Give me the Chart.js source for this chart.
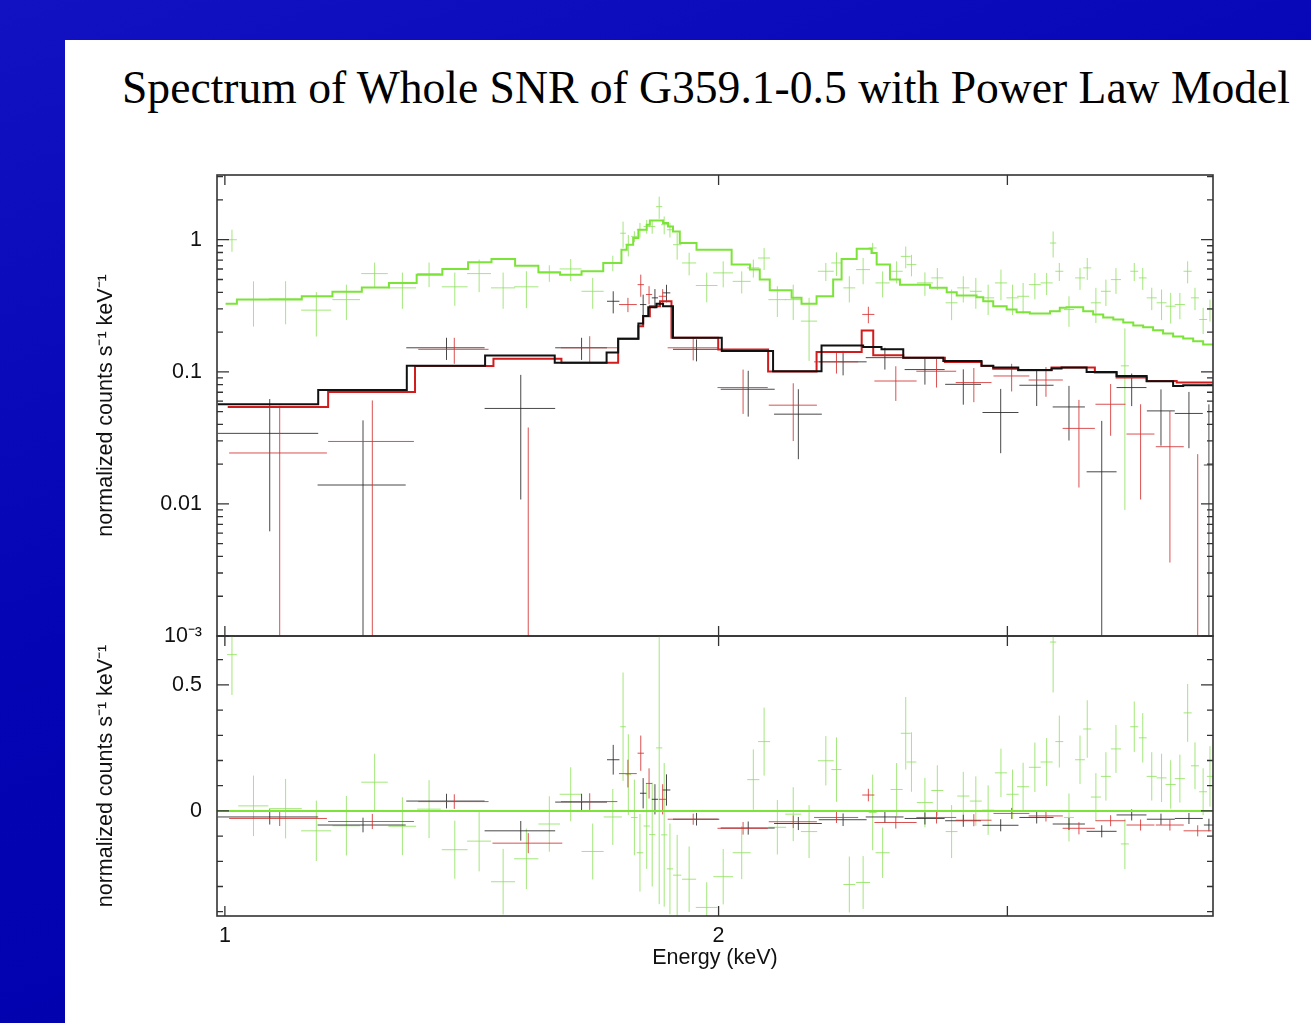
<!DOCTYPE html>
<html>
<head>
<meta charset="utf-8">
<title>G359.1-0.5 spectrum</title>
<script src="https://cdn.jsdelivr.net/npm/chart.js@4.4.0/dist/chart.umd.min.js"></script>
<style>
    body {
        margin: 0;
        width: 1311px;
        height: 1023px;
        overflow: hidden;
        position: relative;
        background: linear-gradient(160deg, #1212c2 0%, #0404b4 45%, #0000aa 100%);
    }
    #sheet {
        position: absolute;
        left: 65px;
        top: 40px;
        width: 1246px;
        height: 983px;
        background: #ffffff;
    }
    #titulo {
        position: absolute;
        left: 122px;
        top: 65px;
        white-space: nowrap;
        font-family: 'Liberation Serif', 'Times New Roman', serif;
        font-size: 45.6px;
        line-height: 1;
        color: #000;
    }
    canvas { position: absolute; left: 65px; }
    #grafTopo { top: 145px; }
    #grafResid { top: 606px; }
</style>
</head>
<body>
<div id="sheet"></div>
<div id="titulo">Spectrum of Whole SNR of G359.1-0.5 with Power Law Model</div>
<canvas id="grafTopo" width="1246" height="521"></canvas>
<canvas id="grafResid" width="1246" height="417"></canvas>

<script>
// eixos
const xMin = 0.989, xMax = 4.004;
const xTickVals = [1, 2];
const xTickLabels = ['1', '2'];
const xMarkVals = [1, 2, 3];
const yTickVals = [0.001, 0.01, 0.1, 1];
const yTickLabels = ['10\u207B\u00B3', '0.01', '0.1', '1'];
const residTickVals = [0, 0.5];
const residTickLabels = ['0', '0.5'];

// dados verdes (energia keV, meia largura, taxa, erro, residuo, erro)
const greenE = [1.010, 1.041, 1.089, 1.137, 1.186, 1.234, 1.283, 1.332, 1.381, 1.429,
    1.478, 1.527, 1.577, 1.625, 1.676, 1.724, 1.749, 1.762, 1.777, 1.791,
    1.808, 1.822, 1.840, 1.853, 1.868, 1.887, 1.919, 1.967, 2.013, 2.066,
    2.100, 2.132, 2.172, 2.221, 2.271, 2.325, 2.360, 2.403, 2.450, 2.483,
    2.518, 2.568, 2.601, 2.622, 2.672, 2.719, 2.774, 2.820, 2.870, 2.920,
    2.973, 3.022, 3.067, 3.118, 3.170, 3.199, 3.227, 3.271, 3.322, 3.356,
    3.397, 3.445, 3.494, 3.538, 3.585, 3.628, 3.674, 3.725, 3.773, 3.822,
    3.864, 3.904, 3.949, 3.987];
const greenDE = [0.007, 0.022, 0.025, 0.024, 0.023, 0.023, 0.025, 0.022, 0.025, 0.024,
    0.025, 0.026, 0.024, 0.025, 0.026, 0.022, 0.007, 0.007, 0.008, 0.008,
    0.008, 0.008, 0.008, 0.008, 0.008, 0.011, 0.019, 0.030, 0.028, 0.026,
    0.018, 0.018, 0.027, 0.025, 0.026, 0.026, 0.017, 0.020, 0.024, 0.014,
    0.025, 0.022, 0.018, 0.018, 0.030, 0.023, 0.023, 0.024, 0.024, 0.025,
    0.025, 0.026, 0.026, 0.026, 0.027, 0.014, 0.018, 0.023, 0.023, 0.019,
    0.024, 0.024, 0.025, 0.020, 0.020, 0.020, 0.026, 0.026, 0.027, 0.027,
    0.022, 0.022, 0.022, 0.017];
const greenRate = [1.00, 0.352, 0.357, 0.293, 0.352, 0.554, 0.432, 0.554, 0.440, 0.554,
    0.432, 0.440, 0.560, 0.601, 0.407, 0.667, 1.12, 0.917, 1.06, 1.19,
    1.26, 1.26, 1.78, 1.30, 1.19, 0.917, 0.667, 0.450, 0.561, 0.484,
    0.612, 0.727, 0.352, 0.352, 0.242, 0.577, 0.667, 0.432, 0.594, 0.866,
    0.471, 0.577, 0.748, 0.648, 0.471, 0.514, 0.333, 0.432, 0.407, 0.363,
    0.471, 0.363, 0.373, 0.457, 0.471, 0.944, 0.577, 0.296, 0.514, 0.612,
    0.333, 0.407, 0.499, 0.111, 0.577, 0.514, 0.363, 0.333, 0.314, 0.323,
    0.577, 0.363, 0.249, 0.296];
const greenRateErr = [0.19, 0.132, 0.128, 0.108, 0.105, 0.117, 0.132, 0.117, 0.124, 0.153,
    0.132, 0.137, 0.08, 0.114, 0.107, 0.09, 0.25, 0.17, 0.10, 0.15,
    0.15, 0.15, 0.34, 0.20, 0.15, 0.21, 0.13, 0.114, 0.125, 0.092,
    0.095, 0.138, 0.092, 0.105, 0.121, 0.09, 0.135, 0.097, 0.134, 0.08,
    0.105, 0.11, 0.14, 0.12, 0.095, 0.097, 0.087, 0.097, 0.107, 0.094,
    0.123, 0.094, 0.098, 0.103, 0.09, 0.21, 0.09, 0.077, 0.097, 0.116,
    0.099, 0.092, 0.11, 0.102, 0.09, 0.097, 0.07, 0.087, 0.082, 0.073,
    0.11, 0.07, 0.056, 0.056];
const greenResid = [0.62, 0.020, 0.009, -0.079, -0.059, 0.114, -0.061, 0.007, -0.154, -0.120,
    -0.281, -0.190, -0.052, 0.066, -0.161, -0.024, 0.334, 0.144, -0.026, -0.166,
    -0.060, -0.094, 0.25, -0.095, -0.23, -0.255, -0.271, -0.383, -0.261, -0.166,
    0.124, 0.275, -0.065, -0.013, -0.082, 0.199, 0.164, -0.292, -0.284, -0.006,
    -0.166, 0.085, 0.308, 0.194, 0.033, 0.081, -0.082, 0.059, 0.039, 0.003,
    0.151, 0.066, 0.096, 0.173, 0.194, 0.670, 0.275, -0.026, 0.203, 0.325,
    0.055, 0.137, 0.246, -0.131, 0.334, 0.290, 0.137, 0.131, 0.105, 0.128,
    0.389, 0.179, 0.076, 0.137];
const greenResidErr = [0.16, 0.12, 0.118, 0.12, 0.118, 0.113, 0.115, 0.115, 0.115, 0.12,
    0.13, 0.12, 0.11, 0.107, 0.111, 0.111, 0.215, 0.16, 0.15, 0.154,
    0.17, 0.206, 0.62, 0.285, 0.18, 0.16, 0.13, 0.10, 0.11, 0.105,
    0.12, 0.135, 0.108, 0.107, 0.105, 0.098, 0.128, 0.111, 0.105, 0.15,
    0.10, 0.105, 0.144, 0.118, 0.098, 0.10, 0.105, 0.096, 0.098, 0.098,
    0.096, 0.098, 0.095, 0.098, 0.095, 0.20, 0.103, 0.095, 0.096, 0.114,
    0.095, 0.096, 0.095, 0.10, 0.10, 0.098, 0.096, 0.096, 0.096, 0.095,
    0.115, 0.093, 0.093, 0.12];

// dados pretos
const blackE = [1.065, 1.214, 1.365, 1.515, 1.650, 1.725, 1.799, 1.829, 1.859, 1.939, 2.085, 2.237,
    2.382, 2.526, 2.672, 2.820, 2.972, 3.126, 3.271, 3.425, 3.572, 3.722, 3.871, 3.981];
const blackDE = [0.075, 0.075, 0.075, 0.075, 0.060, 0.015, 0.008, 0.008, 0.010, 0.063, 0.079, 0.075,
    0.080, 0.067, 0.075, 0.071, 0.075, 0.075, 0.074, 0.072, 0.075, 0.073, 0.076, 0.028];
const blackRate = [0.0342, 0.0139, 0.152, 0.0528, 0.152, 0.342, 0.323, 0.363, 0.396, 0.148, 0.0738, 0.0478,
    0.119, 0.128, 0.104, 0.0804, 0.0492, 0.0791, 0.0542, 0.0175, 0.076, 0.0506, 0.0484, 0.0197];
const blackRateErr = [0.028, 0.029, 0.029, 0.042, 0.029, 0.065, 0.061, 0.06, 0.06, 0.028, 0.028, 0.026,
    0.025, 0.024, 0.024, 0.024, 0.025, 0.024, 0.024, 0.025, 0.021, 0.023, 0.022, 0.037];
const blackResid = [-0.024, -0.056, 0.039, -0.079, 0.035, 0.203, 0.070, 0.046, 0.083, -0.033, -0.068, -0.050,
    -0.035, -0.024, -0.030, -0.039, -0.057, -0.026, -0.052, -0.081, -0.016, -0.033, -0.030, -0.056];
const blackResidErr = [0.03, 0.029, 0.029, 0.039, 0.033, 0.059, 0.06, 0.06, 0.062, 0.025, 0.026, 0.026,
    0.025, 0.024, 0.024, 0.024, 0.024, 0.024, 0.024, 0.024, 0.022, 0.022, 0.022, 0.025];

// dados vermelhos
const redE = [1.080, 1.230, 1.380, 1.531, 1.669, 1.761, 1.793, 1.814, 1.849, 1.930, 2.070, 2.221,
    2.360, 2.468, 2.565, 2.716, 2.862, 3.018, 3.167, 3.317, 3.468, 3.617, 3.769, 3.919];
const redDE = [0.074, 0.074, 0.068, 0.075, 0.066, 0.022, 0.008, 0.008, 0.010, 0.068, 0.073, 0.075,
    0.073, 0.021, 0.076, 0.076, 0.072, 0.076, 0.076, 0.075, 0.073, 0.071, 0.074, 0.077];
const redRate = [0.0243, 0.0297, 0.148, 0.0005, 0.152, 0.323, 0.457, 0.385, 0.373, 0.152, 0.076, 0.0559,
    0.119, 0.272, 0.0852, 0.101, 0.0829, 0.093, 0.0867, 0.0373, 0.0568, 0.0338, 0.0271, 0.0008];
const redRateErr = [0.031, 0.031, 0.033, 0.0374, 0.034, 0.04, 0.087, 0.06, 0.05, 0.03, 0.028, 0.026,
    0.022, 0.039, 0.025, 0.025, 0.024, 0.022, 0.022, 0.024, 0.024, 0.023, 0.0235, 0.023];
const redResid = [-0.030, -0.042, 0.037, -0.128, 0.037, 0.148, 0.229, 0.109, 0.046, -0.033, -0.069, -0.043,
    -0.026, 0.063, -0.046, -0.026, -0.037, -0.010, -0.020, -0.069, -0.039, -0.056, -0.056, -0.079];
const redResidErr = [0.03, 0.03, 0.029, 0.04, 0.033, 0.055, 0.07, 0.06, 0.06, 0.022, 0.025, 0.025,
    0.022, 0.025, 0.024, 0.024, 0.024, 0.022, 0.022, 0.024, 0.022, 0.022, 0.022, 0.022];

// modelos (bordas dos bins e valores)
const greenModelEdges = [1.001, 1.017, 1.114, 1.163, 1.212, 1.259, 1.309, 1.357, 1.407, 1.454,
    1.503, 1.553, 1.601, 1.650, 1.701, 1.745, 1.758, 1.774, 1.787, 1.808,
    1.816, 1.850, 1.863, 1.876, 1.894, 1.939, 2.037, 2.090, 2.119, 2.149,
    2.216, 2.247, 2.295, 2.349, 2.377, 2.428, 2.479, 2.497, 2.544, 2.580,
    2.691, 2.755, 2.794, 2.873, 2.900, 2.941, 2.997, 3.039, 3.096, 3.185,
    3.229, 3.260, 3.337, 3.384, 3.432, 3.481, 3.530, 3.580, 3.630, 3.681,
    3.733, 3.786, 3.840, 3.894, 3.949, 4.004];
const greenModelVals = [0.327, 0.352, 0.373, 0.403, 0.434, 0.471, 0.544, 0.601, 0.674, 0.715,
    0.636, 0.567, 0.544, 0.577, 0.667, 0.840, 0.917, 1.03, 1.19, 1.30,
    1.40, 1.34, 1.26, 1.155, 0.944, 0.840, 0.648, 0.594, 0.499, 0.414,
    0.363, 0.327, 0.373, 0.499, 0.715, 0.855, 0.794, 0.648, 0.499, 0.457,
    0.432, 0.400, 0.378, 0.367, 0.342, 0.314, 0.296, 0.283, 0.276, 0.288,
    0.305, 0.308, 0.288, 0.272, 0.258, 0.249, 0.236, 0.224, 0.217, 0.206,
    0.195, 0.185, 0.179, 0.170, 0.161];
const blackModelEdges = [0.990, 1.140, 1.291, 1.441, 1.589, 1.709, 1.737, 1.787, 1.799, 1.812,
    1.833, 1.850, 1.876, 2.009, 2.159, 2.311, 2.450, 2.514, 2.592, 2.742,
    2.893, 2.941, 3.046, 3.192, 3.237, 3.353, 3.497, 3.648, 3.786, 3.840, 4.004];
const blackModelVals = [0.0568, 0.0729, 0.111, 0.133, 0.117, 0.140, 0.178, 0.232, 0.264, 0.308,
    0.327, 0.314, 0.181, 0.1435, 0.101, 0.1585, 0.154, 0.148, 0.128, 0.121,
    0.111, 0.108, 0.103, 0.106, 0.108, 0.0997, 0.093, 0.085, 0.078, 0.079];
const redModelEdges = [1.004, 1.156, 1.306, 1.458, 1.604, 1.737, 1.787, 1.799, 1.816, 1.842,
    1.872, 1.999, 2.144, 2.295, 2.445, 2.485, 2.592, 2.748, 2.893, 2.941,
    3.046, 3.192, 3.392, 3.497, 3.648, 3.805, 4.004];
const redModelVals = [0.0542, 0.0704, 0.1106, 0.1258, 0.1173, 0.1781, 0.2217, 0.2637, 0.3138, 0.3422,
    0.1812, 0.1478, 0.1004, 0.1411, 0.2057, 0.1332, 0.128, 0.1186, 0.1106, 0.1057,
    0.1026, 0.1076, 0.0987, 0.0904, 0.0852, 0.0829];
const zeroLineE = [0.989, 4.004];
const zeroLineVal = [0, 0];

const corVerde = 'rgb(124, 228, 56)';
const corVerdeDados = 'rgba(140, 225, 90, 0.8)';
const corPreto = '#111111';
const corPretoDados = 'rgba(40, 40, 40, 0.85)';
const corVermelho = 'rgb(208, 28, 28)';
const corVermelhoDados = 'rgba(212, 50, 50, 0.85)';
const fonteEixo = { family: "'Liberation Sans', Arial, sans-serif", size: 21.5 };

function degraus(edges, vals) {
    return edges.map(function (e, i) {
        return { x: e, y: vals[Math.min(i, vals.length - 1)] };
    });
}

function pares(xs, ys) {
    return xs.map(function (x, i) { return { x: x, y: ys[i] }; });
}

// cruzes de erro desenhadas pelas escalas do grafico
function desenharCruzes(chart, conjuntos, log) {
    const ctx = chart.ctx;
    const a = chart.chartArea;
    const sx = chart.scales.x, sy = chart.scales.y;
    ctx.save();
    ctx.beginPath();
    ctx.rect(a.left, a.top, a.right - a.left, a.bottom - a.top);
    ctx.clip();
    conjuntos.forEach(function (c) {
        ctx.strokeStyle = c.cor;
        ctx.lineWidth = 1;
        ctx.beginPath();
        for (let i = 0; i < c.e.length; i++) {
            const xc = sx.getPixelForValue(c.e[i]);
            const x0 = sx.getPixelForValue(c.e[i] - c.de[i]);
            const x1 = sx.getPixelForValue(c.e[i] + c.de[i]);
            const lo = c.y[i] - c.dy[i];
            const hi = c.y[i] + c.dy[i];
            const yc = sy.getPixelForValue(c.y[i]);
            const y0 = (log && lo <= 0) ? a.bottom + 5 : sy.getPixelForValue(lo);
            const y1 = sy.getPixelForValue(hi);
            ctx.moveTo(x0, yc);
            ctx.lineTo(x1, yc);
            ctx.moveTo(xc, y0);
            ctx.lineTo(xc, y1);
        }
        ctx.stroke();
    });
    ctx.restore();
}

// moldura e marcas internas
function desenharMoldura(chart, yMaior, yMenor) {
    const ctx = chart.ctx;
    const a = chart.chartArea;
    const sx = chart.scales.x, sy = chart.scales.y;
    ctx.save();
    ctx.strokeStyle = '#333';
    ctx.lineWidth = 1.6;
    ctx.strokeRect(a.left, a.top, a.right - a.left, a.bottom - a.top);
    ctx.lineWidth = 1.3;
    ctx.beginPath();
    xMarkVals.forEach(function (v) {
        const px = sx.getPixelForValue(v);
        ctx.moveTo(px, a.bottom); ctx.lineTo(px, a.bottom - 10);
        ctx.moveTo(px, a.top); ctx.lineTo(px, a.top + 10);
    });
    yMaior.forEach(function (v) {
        const py = sy.getPixelForValue(v);
        ctx.moveTo(a.left, py); ctx.lineTo(a.left + 12, py);
        ctx.moveTo(a.right, py); ctx.lineTo(a.right - 12, py);
    });
    yMenor.forEach(function (v) {
        const py = sy.getPixelForValue(v);
        if (py < a.top + 1 || py > a.bottom - 1) return;
        ctx.moveTo(a.left, py); ctx.lineTo(a.left + 6, py);
        ctx.moveTo(a.right, py); ctx.lineTo(a.right - 6, py);
    });
    ctx.stroke();
    ctx.restore();
}

const menoresLog = [];
[0.001, 0.01, 0.1, 1].forEach(function (d) {
    for (let k = 2; k <= 9; k++) menoresLog.push(k * d);
});
const menoresLin = [-0.4, -0.3, -0.2, -0.1, 0.1, 0.2, 0.3, 0.4, 0.6];

const pluginTopo = {
    id: 'cruzesTopo',
    beforeDatasetsDraw(chart) {
        desenharCruzes(chart, [
            { e: greenE, de: greenDE, y: greenRate, dy: greenRateErr, cor: corVerdeDados },
            { e: blackE, de: blackDE, y: blackRate, dy: blackRateErr, cor: corPretoDados },
            { e: redE, de: redDE, y: redRate, dy: redRateErr, cor: corVermelhoDados }
        ], true);
    },
    afterDatasetsDraw(chart) {
        desenharMoldura(chart, yTickVals, menoresLog);
    }
};

const pluginResid = {
    id: 'cruzesResid',
    beforeDatasetsDraw(chart) {
        desenharCruzes(chart, [
            { e: greenE, de: greenDE, y: greenResid, dy: greenResidErr, cor: corVerdeDados },
            { e: blackE, de: blackDE, y: blackResid, dy: blackResidErr, cor: corPretoDados },
            { e: redE, de: redDE, y: redResid, dy: redResidErr, cor: corVermelhoDados }
        ], false);
    },
    afterDatasetsDraw(chart) {
        desenharMoldura(chart, residTickVals, menoresLin);
    }
};

function linhaDegrau(pontos, cor) {
    return {
        data: pontos,
        borderColor: cor,
        borderWidth: 2,
        pointRadius: 0,
        stepped: 'before',
        fill: false
    };
}

const eixoX = {
    type: 'logarithmic',
    min: xMin,
    max: xMax,
    bounds: 'data'
};

new Chart(document.getElementById('grafTopo'), {
    type: 'line',
    data: {
        datasets: [
            linhaDegrau(degraus(greenModelEdges, greenModelVals), corVerde),
            linhaDegrau(degraus(blackModelEdges, blackModelVals), corPreto),
            linhaDegrau(degraus(redModelEdges, redModelVals), corVermelho)
        ]
    },
    options: {
        responsive: false,
        animation: false,
        devicePixelRatio: 1,
        layout: { padding: { top: 30, left: 24, right: 98, bottom: 30 } },
        plugins: { legend: { display: false }, tooltip: { enabled: false } },
        scales: {
            x: Object.assign({ display: false }, eixoX),
            y: {
                type: 'logarithmic',
                min: 0.001,
                max: 3.09,
                bounds: 'data',
                grid: { display: false, drawTicks: false },
                border: { display: false },
                afterBuildTicks: function (s) {
                    s.ticks = yTickVals.map(function (v) { return { value: v }; });
                },
                afterFit: function (s) { s.width = 128; },
                ticks: {
                    padding: 15,
                    color: '#111',
                    font: fonteEixo,
                    callback: function (v) {
                        const i = yTickVals.indexOf(v);
                        return i >= 0 ? yTickLabels[i] : '';
                    }
                },
                title: {
                    display: true,
                    text: 'normalized counts s\u207B\u00B9 keV\u207B\u00B9',
                    color: '#111',
                    font: fonteEixo,
                    padding: { top: 4, bottom: 0 }
                }
            }
        }
    },
    plugins: [pluginTopo]
});

new Chart(document.getElementById('grafResid'), {
    type: 'line',
    data: {
        datasets: [
            {
                data: pares(zeroLineE, zeroLineVal),
                borderColor: corVerde,
                borderWidth: 2,
                pointRadius: 0,
                fill: false
            }
        ]
    },
    options: {
        responsive: false,
        animation: false,
        devicePixelRatio: 1,
        layout: { padding: { top: 30, left: 24, right: 98, bottom: 37 } },
        plugins: { legend: { display: false }, tooltip: { enabled: false } },
        scales: {
            x: Object.assign({
                grid: { display: false, drawTicks: false },
                border: { display: false },
                afterBuildTicks: function (s) {
                    s.ticks = xTickVals.map(function (v) { return { value: v }; });
                },
                afterFit: function (s) { s.height = 70; },
                ticks: {
                    padding: 7,
                    color: '#111',
                    font: fonteEixo,
                    maxRotation: 0,
                    autoSkip: false,
                    callback: function (v) {
                        const i = xTickVals.indexOf(v);
                        return i >= 0 ? xTickLabels[i] : '';
                    }
                },
                title: {
                    display: true,
                    text: 'Energy (keV)',
                    color: '#111',
                    font: fonteEixo,
                    padding: { top: 0, bottom: 15 }
                }
            }, eixoX),
            y: {
                type: 'linear',
                min: -0.417,
                max: 0.694,
                bounds: 'data',
                grid: { display: false, drawTicks: false },
                border: { display: false },
                afterBuildTicks: function (s) {
                    s.ticks = residTickVals.map(function (v) { return { value: v }; });
                },
                afterFit: function (s) { s.width = 128; },
                ticks: {
                    padding: 15,
                    color: '#111',
                    font: fonteEixo,
                    callback: function (v) {
                        const i = residTickVals.indexOf(v);
                        return i >= 0 ? residTickLabels[i] : '';
                    }
                },
                title: {
                    display: true,
                    text: 'normalized counts s\u207B\u00B9 keV\u207B\u00B9',
                    color: '#111',
                    font: fonteEixo,
                    padding: { top: 4, bottom: 0 }
                }
            }
        }
    },
    plugins: [pluginResid]
});
</script>
</body>
</html>
